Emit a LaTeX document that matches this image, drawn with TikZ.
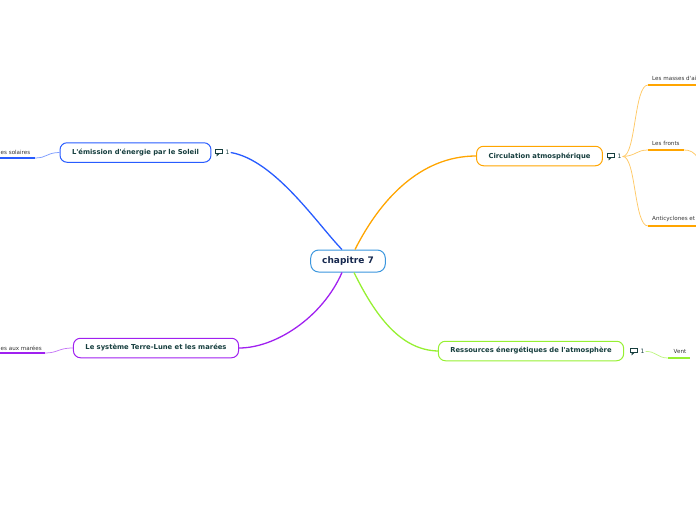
\documentclass[tikz,border=0pt]{standalone}
\usepackage{fontspec}
\setmainfont{DejaVu Sans}
\usetikzlibrary{positioning}

\definecolor{ink}{RGB}{22,62,62}
\definecolor{rootink}{RGB}{22,40,78}
\definecolor{rootline}{RGB}{58,150,222}
\definecolor{sunblue}{RGB}{40,92,255}
\definecolor{tidepurple}{RGB}{160,32,240}
\definecolor{airorange}{RGB}{255,165,0}
\definecolor{windgreen}{RGB}{150,240,50}

\tikzset{
  topic/.style={draw=#1, line width=1pt, rounded corners=7pt, fill=white, text=ink,
    font=\bfseries\fontsize{6.8}{8}\selectfont, inner xsep=12pt, minimum height=19.5pt},
  root/.style={draw=rootline, line width=1pt, rounded corners=8pt, fill=white, text=rootink,
    font=\bfseries\fontsize{9}{10}\selectfont, inner xsep=11.5pt, minimum height=22pt},
  branch/.style={draw=#1, line width=1.3pt},
  twig/.style={draw=#1!60, line width=0.75pt},
  under/.style={draw=#1, line width=1.6pt},
  leaf/.style={anchor=west, inner sep=0pt, text=black!80, font=\fontsize{5.6}{6}\selectfont},
  count/.style={anchor=west, inner sep=1pt, text=ink, font=\fontsize{6}{7}\selectfont},
  note/.pic={
    \draw[ink, line width=0.7pt] (-3.5,-2.2) rectangle (3.5,1.8);
    \draw[ink, line width=0.7pt] (-2,1.8) -- (-2,3.6) -- (0,1.8);
  }
}

\begin{document}
\begin{tikzpicture}[x=1pt,y=-1pt]
\useasboundingbox (0,0) rectangle (696,520);

% Root
\node[root] (root) at (348,261) {chapitre 7};

% Topics
\node[topic=sunblue] (sun) at (135.5,152.5) {L\textquotesingle émission d\textquotesingle énergie par le Soleil};
\node[topic=tidepurple] (tides) at (156,348) {Le système Terre-Lune et les marées};
\node[topic=airorange] (circ) at (539.5,156) {Circulation atmosphérique};
\node[topic=windgreen] (energy) at (531,351) {Ressources énergétiques de l\textquotesingle atmosphère};

% Comment counts
\pic at (219,152) {note};
\node[count] (cnt1) at (224.5,152.5) {1};
\pic at (611,156) {note};
\node[count] (cnt2) at (616.5,156.5) {1};
\pic at (634,351) {note};
\node[count] (cnt3) at (639.5,351.5) {1};

% Branches
\draw[branch=sunblue] (cnt1.east) .. controls (275,160) and (318,225) .. ([xshift=-6pt]root.north);
\draw[branch=tidepurple] (tides.east) .. controls (275,348) and (322,318) .. ([xshift=-6pt]root.south);
\draw[branch=airorange] ([xshift=7pt]root.north) .. controls (380,200) and (420,156) .. (circ.west);
\draw[branch=windgreen] ([xshift=6pt]root.south) .. controls (375,315) and (400,350) .. (energy.west);

% Leaves of the sun
\coordinate (solA) at (35,158);
\coordinate (solB) at (0,158);
\node[leaf] (sol) at (0.5,152) {es solaires};
\draw[twig=sunblue] (sun.west) .. controls (47,152.5) and (47,158) .. (solA);
\draw[under=sunblue] (solA) -- (solB);

% Leaves of the tides
\coordinate (mareA) at (45,353);
\coordinate (mareB) at (0,353);
\node[leaf] (maree) at (0.5,348) {es aux marées};
\draw[twig=tidepurple] (tides.west) .. controls (58,348) and (58,353) .. (mareA);
\draw[under=tidepurple] (mareA) -- (mareB);

% Leaves of the circulation
\coordinate (massA) at (648,85);
\coordinate (massB) at (696,85);
\coordinate (frontA) at (648,150);
\coordinate (frontB) at (684,150);
\coordinate (frontC) at (698,158);
\coordinate (anticA) at (648,226);
\coordinate (anticB) at (696,226);
\node[leaf] (mass) at (652,78.5) {Les masses d\textquotesingle ai};
\node[leaf] (front) at (652,143.5) {Les fronts};
\node[leaf] (antic) at (652,219) {Anticyclones et};
\draw[twig=airorange] (cnt2.east) .. controls (636,156) and (634,85) .. (massA);
\draw[twig=airorange] (cnt2.east) .. controls (636,156) and (636,150) .. (frontA);
\draw[twig=airorange] (cnt2.east) .. controls (636,156) and (634,226) .. (anticA);
\draw[twig=airorange] (frontB) .. controls (690,150) and (694,152) .. (frontC);
\draw[under=airorange] (massA) -- (massB);
\draw[under=airorange] (frontA) -- (frontB);
\draw[under=airorange] (anticA) -- (anticB);

% Leaf of the energy
\coordinate (ventA) at (668,358);
\coordinate (ventB) at (690,358);
\node[leaf, anchor=center] (vent) at (680,351.5) {Vent};
\draw[twig=windgreen] (cnt3.east) .. controls (656,351) and (657,358) .. (ventA);
\draw[under=windgreen] (ventA) -- (ventB);
\end{tikzpicture}
\end{document}
